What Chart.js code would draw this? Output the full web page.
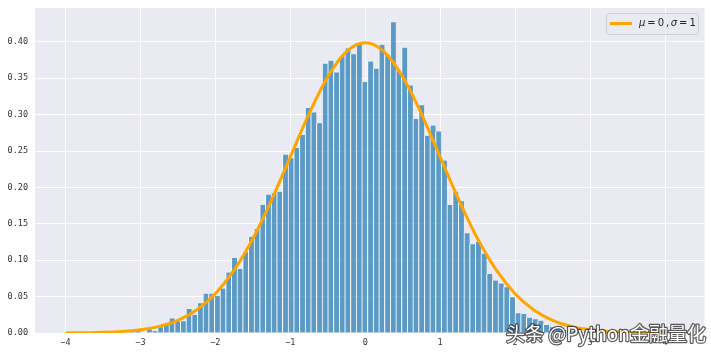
<!DOCTYPE html>
<html>
<head>
<meta charset="utf-8">
<script src="https://cdn.jsdelivr.net/npm/chart.js@4.4.1/dist/chart.umd.min.js"></script>
<style>
  html, body { margin: 0; padding: 0; background: #fff; }
  #wrap { width: 711px; height: 355px; position: relative; }
</style>
</head>
<body>
<div id="wrap"><canvas id="histChart"></canvas></div>
<script>
// histogram: 100 bins, density values
const binStart = -3.452;
const binWidth = 0.0757;
const density = [
  0.0013, 0, 0, 0, 0.0013, 0.0026, 0, 0.005, 0.0026, 0.008,
  0.011, 0.020, 0.016, 0.016, 0.033, 0.025, 0.041, 0.054, 0.054, 0.051,
  0.061, 0.083, 0.103, 0.088, 0.111, 0.132, 0.143, 0.176, 0.190, 0.192,
  0.194, 0.245, 0.240, 0.254, 0.272, 0.309, 0.303, 0.288, 0.370, 0.374,
  0.358, 0.380, 0.391, 0.383, 0.398, 0.345, 0.373, 0.363, 0.396, 0.382,
  0.427, 0.360, 0.392, 0.340, 0.294, 0.313, 0.271, 0.285, 0.277, 0.237,
  0.176, 0.194, 0.181, 0.137, 0.122, 0.125, 0.109, 0.081, 0.072, 0.068,
  0.063, 0.049, 0.027, 0.026, 0.021, 0.019, 0.017, 0.011, 0.008, 0.005,
  0.004, 0.003, 0.003, 0.0013, 0.0026, 0.0013, 0, 0.0013, 0, 0,
  0, 0.0013, 0, 0, 0, 0, 0, 0, 0, 0.0013
];

// orange curve (mu=0, sigma=1)
const curveX = [-4, -3.75, -3.5, -3.25, -3, -2.75, -2.5, -2.25, -2, -1.75, -1.5, -1.25, -1, -0.75, -0.5, -0.25,
                0, 0.25, 0.5, 0.75, 1, 1.25, 1.5, 1.75, 2, 2.25, 2.5, 2.75, 3, 3.25, 3.5, 3.75, 4];
const curveY = [0.0001, 0.0004, 0.0009, 0.002, 0.0044, 0.0091, 0.0175, 0.0317, 0.054, 0.0863, 0.1295, 0.1826, 0.242, 0.3011, 0.3521, 0.3867,
                0.3989, 0.3867, 0.3521, 0.3011, 0.242, 0.1826, 0.1295, 0.0863, 0.054, 0.0317, 0.0175, 0.0091, 0.0044, 0.002, 0.0009, 0.0004, 0.0001];

const xTicks = [-4, -3, -2, -1, 0, 1, 2, 3, 4];
const yTicks = [0, 0.05, 0.10, 0.15, 0.20, 0.25, 0.30, 0.35, 0.40];
const legendLabel = ['μ', '=', '0', ',', 'σ', '=', '1'];
const watermark = '头条 @Python金融量化';

const barPoints = density.map((d, i) => ({ x: binStart + (i + 0.5) * binWidth, y: d }));
const curvePoints = curveX.map((x, i) => ({ x: x, y: curveY[i] }));

const tickFont = { family: "'DejaVu Sans Mono', monospace", size: 8.5 };

new Chart(document.getElementById('histChart'), {
  type: 'bar',
  data: {
    datasets: [
      {
        type: 'line',
        data: curvePoints,
        borderColor: '#FFA500',
        borderWidth: 3,
        pointRadius: 0,
        cubicInterpolationMode: 'monotone',
        clip: 0,
        order: 0
      },
      {
        type: 'bar',
        data: barPoints,
        backgroundColor: 'rgba(31, 119, 180, 0.7)',
        borderColor: '#ffffff',
        borderWidth: { left: 1, right: 0, top: 0, bottom: 0 },
        borderSkipped: false,
        barPercentage: 1,
        categoryPercentage: 1,
        order: 1
      }
    ]
  },
  options: {
    responsive: true,
    maintainAspectRatio: false,
    animation: false,
    layout: { padding: { top: 8, right: 6.5, left: 0, bottom: 0 } },
    plugins: { legend: { display: false }, tooltip: { enabled: false } },
    scales: {
      x: {
        type: 'linear',
        min: -4.406, max: 4.527,
        offset: false,
        grid: { color: '#ffffff', lineWidth: 1, drawTicks: false, offset: false },
        border: { display: false },
        afterBuildTicks: (s) => { s.ticks = xTicks.map(v => ({ value: v })); },
        afterFit: (s) => { s.height = 22; s.paddingLeft = 0; s.paddingRight = 0; },
        ticks: {
          padding: 5,
          color: '#333333',
          font: tickFont,
          maxRotation: 0,
          callback: (v) => (v < 0 ? '\u2212' + Math.abs(v) : String(v))
        }
      },
      y: {
        min: 0, max: 0.4465,
        grid: { color: '#ffffff', lineWidth: 1, drawTicks: false },
        border: { display: false },
        afterBuildTicks: (s) => { s.ticks = yTicks.map(v => ({ value: v })); },
        afterFit: (s) => { s.width = 35; s.paddingTop = 0; s.paddingBottom = 0; },
        ticks: {
          padding: 7,
          color: '#333333',
          font: tickFont,
          callback: (v) => Number(v).toFixed(2)
        }
      }
    }
  },
  plugins: [{
    id: 'seabornLook',
    beforeDraw: (chart) => {
      const { ctx, chartArea: { left, top, right, bottom } } = chart;
      ctx.save();
      ctx.fillStyle = '#EAEAF2';
      ctx.fillRect(left, top, right - left, bottom - top);
      ctx.restore();
    },
    afterDraw: (chart) => {
      const { ctx } = chart;
      ctx.save();

      // legend box, top right
      ctx.beginPath();
      ctx.roundRect(606.5, 13.5, 92, 21, 3);
      ctx.fillStyle = 'rgba(234, 234, 242, 0.8)';
      ctx.fill();
      ctx.strokeStyle = '#cfcfd6';
      ctx.lineWidth = 1;
      ctx.stroke();

      ctx.beginPath();
      ctx.moveTo(610, 23.5);
      ctx.lineTo(632, 23.5);
      ctx.strokeStyle = '#FFA500';
      ctx.lineWidth = 3;
      ctx.stroke();

      ctx.fillStyle = '#262626';
      ctx.textBaseline = 'middle';
      let lx = 639;
      legendLabel.forEach((t) => {
        const italic = (t === 'μ' || t === 'σ');
        ctx.font = (italic ? 'italic ' : '') + "10px 'DejaVu Sans'";
        ctx.fillText(t, lx, 23.5);
        lx += ctx.measureText(t).width + (t === '=' || italic || t === '0' ? 2 : 1.5);
      });

      // watermark
      ctx.font = "19px 'Noto Sans CJK SC'";
      ctx.textBaseline = 'middle';
      ctx.lineJoin = 'round';
      ctx.lineWidth = 2.5;
      ctx.strokeStyle = 'rgba(40, 40, 40, 0.75)';
      ctx.strokeText(watermark, 506, 334);
      ctx.fillStyle = '#ffffff';
      ctx.fillText(watermark, 506, 334);

      ctx.restore();
    }
  }]
});
</script>
</body>
</html>
